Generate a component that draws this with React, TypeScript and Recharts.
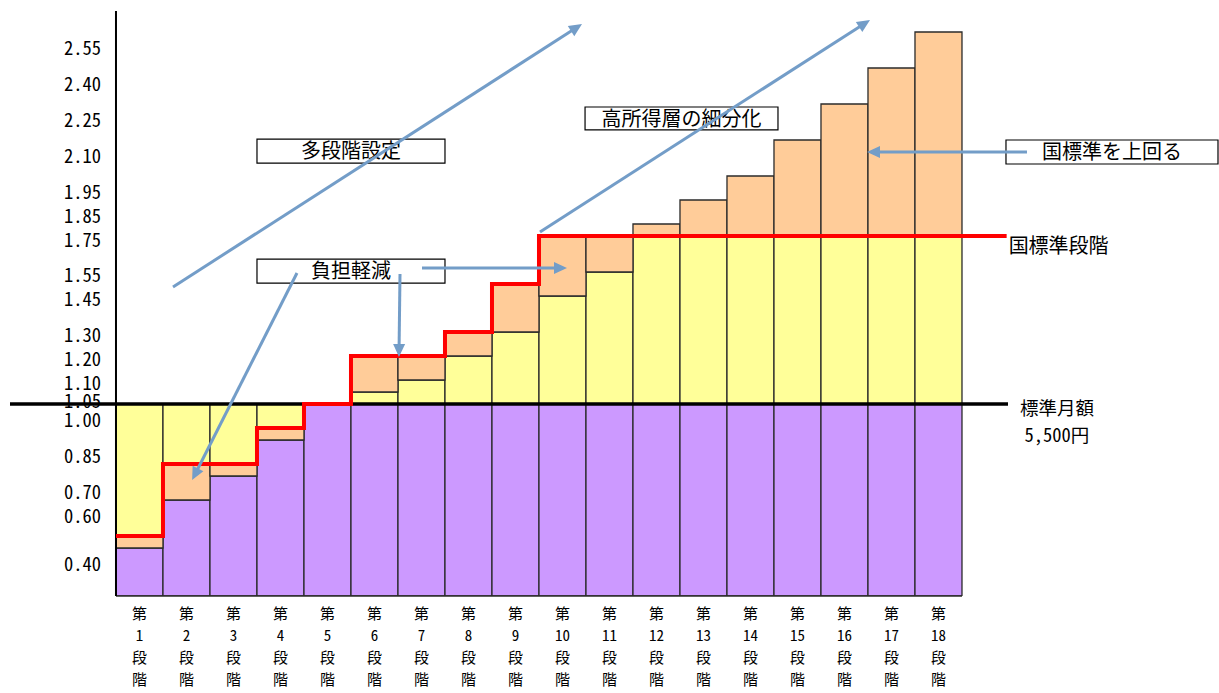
import React from 'react';
import { ComposedChart, Bar, Line, XAxis, YAxis, ReferenceLine, ReferenceArea } from 'recharts';

// ---------- data ----------
const levelLabels = ['1', '2', '3', '4', '5', '6', '7', '8', '9', '10', '11', '12', '13', '14', '15', '16', '17', '18'];
const municipalRates = [0.4, 0.6, 0.7, 0.85, 1.0, 1.05, 1.1, 1.2, 1.3, 1.45, 1.55, 1.75, 1.85, 1.95, 2.1, 2.25, 2.4, 2.55];
const nationalRates = [0.45, 0.75, 0.75, 0.9, 1.0, 1.2, 1.2, 1.3, 1.5, 1.7, 1.7, 1.7, 1.7, 1.7, 1.7, 1.7, 1.7, 1.7];
const baseRate = 1.0;
const yTickValues = municipalRates;
const baseLabelLines = ['標準月額', '5,500円'];
const nationalLabel = '国標準段階';

const boxTexts = ['多段階設定', '負担軽減', '高所得層の細分化', '国標準を上回る'];

// ---------- layout ----------
const W = 1219;
const H = 693;
const MARGIN = { top: 11, right: 211, left: 10, bottom: 0 };
const X_AXIS_HEIGHT = 97;
const PLOT_BOTTOM = H - X_AXIS_HEIGHT;
const X_DOMAIN: [number, number] = [-1.755, 19.479];
const Y_DOMAIN: [number, number] = [0.2, 2.6375];
const LINE_END_X = 19.45;
const Y_LABEL_RIGHT = 101;

const FONT = "'Noto Sans Mono CJK JP', 'Noto Sans CJK JP', 'DejaVu Sans Mono', monospace";
const PURPLE = '#CC99FF';
const YELLOW = '#FFFF99';
const ORANGE = '#FFCC99';
const EDGE = '#2b2b2b';
const RED = '#FF0000';
const ARROW = '#739DC8';

// annotation boxes (data coordinates)
const boxLayout = [
  { x1: 3.5, x2: 7.5, y1: 2.004, y2: 2.104 },
  { x1: 3.5, x2: 7.5, y1: 1.504, y2: 1.604 },
  { x1: 10.48, x2: 14.585, y1: 2.142, y2: 2.2375 },
  { x1: 19.436, x2: 23.947, y1: 2.0, y2: 2.1 },
];

// annotation arrows (data coordinates): start -> end(head)
const arrowLayout = [
  [{ x: 1.713, y: 1.4875 }, { x: 10.415, y: 2.583 }],
  [{ x: 9.521, y: 1.717 }, { x: 16.543, y: 2.6 }],
  [{ x: 19.883, y: 2.05 }, { x: 16.479, y: 2.05 }],
  [{ x: 7.011, y: 1.567 }, { x: 10.096, y: 1.567 }],
  [{ x: 6.543, y: 1.542 }, { x: 6.521, y: 1.196 }],
  [{ x: 4.351, y: 1.546 }, { x: 2.12, y: 0.683 }],
];

// ---------- derived tables ----------
const r3 = (t: number) => Math.round(t * 1000) / 1000;
const rows = levelLabels.map((label, i) => {
  const v = municipalRates[i];
  const n = nationalRates[i];
  const below = v < baseRate;
  return {
    x: i + 1,
    label,
    purple: Math.min(v, baseRate),
    orangeLow: below ? r3(Math.max(0, n - v)) : 0,
    yellow: below ? r3(baseRate - Math.max(v, n)) : r3(Math.min(v, n) - baseRate),
    orangeHigh: below ? 0 : r3(Math.abs(v - n)),
  };
});
const xTicks = rows.map((d) => d.x);
const lineRows = [
  ...nationalRates.map((n, i) => ({ x: i + 0.5, nat: n })),
  { x: LINE_END_X, nat: nationalRates[nationalRates.length - 1] },
];

// ---------- custom renderers ----------
function yLabelOffset(v: number) {
  if (v <= 1 || v >= 1.7) return 15;
  if (v < 1.1) return 8;
  return 2;
}

function YTick(props: any) {
  const { y, payload } = props;
  const v = Number(payload.value);
  return (
    <text x={Y_LABEL_RIGHT} y={Number(y) + yLabelOffset(v)} textAnchor="end" dominantBaseline="central" fontFamily={FONT} fontSize={18.5} fill="#000">
      {v.toFixed(2)}
    </text>
  );
}

function XTick(props: any) {
  const { x, payload } = props;
  const label = levelLabels[Number(payload.value) - 1];
  const parts = ['第', label, '段', '階'];
  const cx = Number(x);
  return (
    <text x={cx} y={PLOT_BOTTOM + 16} textAnchor="middle" dominantBaseline="central" fontFamily={FONT} fontSize={15} fill="#000">
      {parts.map((t, i) => (
        <tspan key={i} x={cx} dy={i === 0 ? 0 : 22}>
          {t}
        </tspan>
      ))}
    </text>
  );
}

function ArrowShape(props: any) {
  const x1 = Number(props.x1), y1 = Number(props.y1), x2 = Number(props.x2), y2 = Number(props.y2);
  const dx = x2 - x1, dy = y2 - y1;
  const len = Math.hypot(dx, dy) || 1;
  const ux = dx / len, uy = dy / len;
  const hl = 13, hw = 6;
  const bx = x2 - ux * hl, by = y2 - uy * hl;
  const px = -uy, py = ux;
  return (
    <g>
      <line x1={x1} y1={y1} x2={bx + ux * 2} y2={by + uy * 2} stroke={ARROW} strokeWidth={3} />
      <polygon points={`${x2},${y2} ${bx + px * hw},${by + py * hw} ${bx - px * hw},${by - py * hw}`} fill={ARROW} />
    </g>
  );
}

function BaseLineLabel(props: any) {
  const vb = props.viewBox || {};
  const xr = Number(vb.x) + Number(vb.width || 0) + 49;
  const y = Number(vb.y);
  return (
    <text x={xr} y={y + 3} textAnchor="middle" dominantBaseline="central" fontFamily={FONT} fontSize={18.5} fill="#000">
      <tspan x={xr} dy={0}>{baseLabelLines[0]}</tspan>
      <tspan x={xr} dy={27}>{baseLabelLines[1]}</tspan>
    </text>
  );
}

function NationalEndLabel(props: any) {
  if (props.index !== lineRows.length - 1) return null;
  const x = Number(props.x ?? props.viewBox?.x);
  const y = Number(props.y ?? props.viewBox?.y);
  return (
    <text x={x + 2} y={y + 8} textAnchor="start" dominantBaseline="central" fontFamily={FONT} fontSize={20} fill="#000">
      {nationalLabel}
    </text>
  );
}

export default function App() {
  return (
    <div style={{ position: 'absolute', left: 0, top: 0, width: W, height: H, background: '#fff' }}>
      <ComposedChart width={W} height={H} data={rows} margin={MARGIN} barCategoryGap={0} barGap={0}>
        <XAxis
          dataKey="x"
          type="number"
          domain={X_DOMAIN}
          allowDataOverflow
          ticks={xTicks}
          interval={0}
          height={X_AXIS_HEIGHT}
          axisLine={false}
          tickLine={false}
          tick={<XTick />}
        />
        <XAxis xAxisId="line" dataKey="x" type="number" domain={X_DOMAIN} allowDataOverflow hide />
        <YAxis
          type="number"
          domain={Y_DOMAIN}
          allowDataOverflow
          ticks={yTickValues}
          interval={0}
          mirror
          axisLine={false}
          tickLine={false}
          tick={<YTick />}
        />
        {boxLayout.map((b, i) => (
          <ReferenceArea
            key={'box' + i}
            x1={b.x1}
            x2={b.x2}
            y1={b.y1}
            y2={b.y2}
            ifOverflow="visible"
            fill="#fff"
            fillOpacity={1}
            stroke="#000"
            strokeWidth={1.2}
            label={{ value: boxTexts[i], position: 'center', fill: '#000', fontSize: 20, fontFamily: FONT }}
          />
        ))}
        <Bar dataKey="purple" stackId="s" fill={PURPLE} stroke={EDGE} strokeWidth={1.3} isAnimationActive={false} />
        <Bar dataKey="orangeLow" stackId="s" fill={ORANGE} stroke={EDGE} strokeWidth={1.3} isAnimationActive={false} />
        <Bar dataKey="yellow" stackId="s" fill={YELLOW} stroke={EDGE} strokeWidth={1.3} isAnimationActive={false} />
        <Bar dataKey="orangeHigh" stackId="s" fill={ORANGE} stroke={EDGE} strokeWidth={1.3} isAnimationActive={false} />
        <ReferenceLine
          segment={[{ x: 0.5, y: Y_DOMAIN[0] }, { x: levelLabels.length + 0.5, y: Y_DOMAIN[0] }]}
          ifOverflow="visible"
          stroke={EDGE}
          strokeWidth={1.5}
        />
        <ReferenceLine x={0.5} stroke="#000" strokeWidth={2} />
        <ReferenceLine y={baseRate} stroke="#000" strokeWidth={3.5} label={(p: any) => <BaseLineLabel {...p} />} />
        <Line
          xAxisId="line"
          data={lineRows}
          dataKey="nat"
          type="stepAfter"
          stroke={RED}
          strokeWidth={4}
          dot={false}
          activeDot={false}
          isAnimationActive={false}
          label={(p: any) => <NationalEndLabel {...p} />}
        />
        {arrowLayout.map((seg, i) => (
          <ReferenceLine key={'arr' + i} segment={seg} ifOverflow="visible" zIndex={2100} shape={(p: any) => <ArrowShape {...p} />} />
        ))}
      </ComposedChart>
    </div>
  );
}
